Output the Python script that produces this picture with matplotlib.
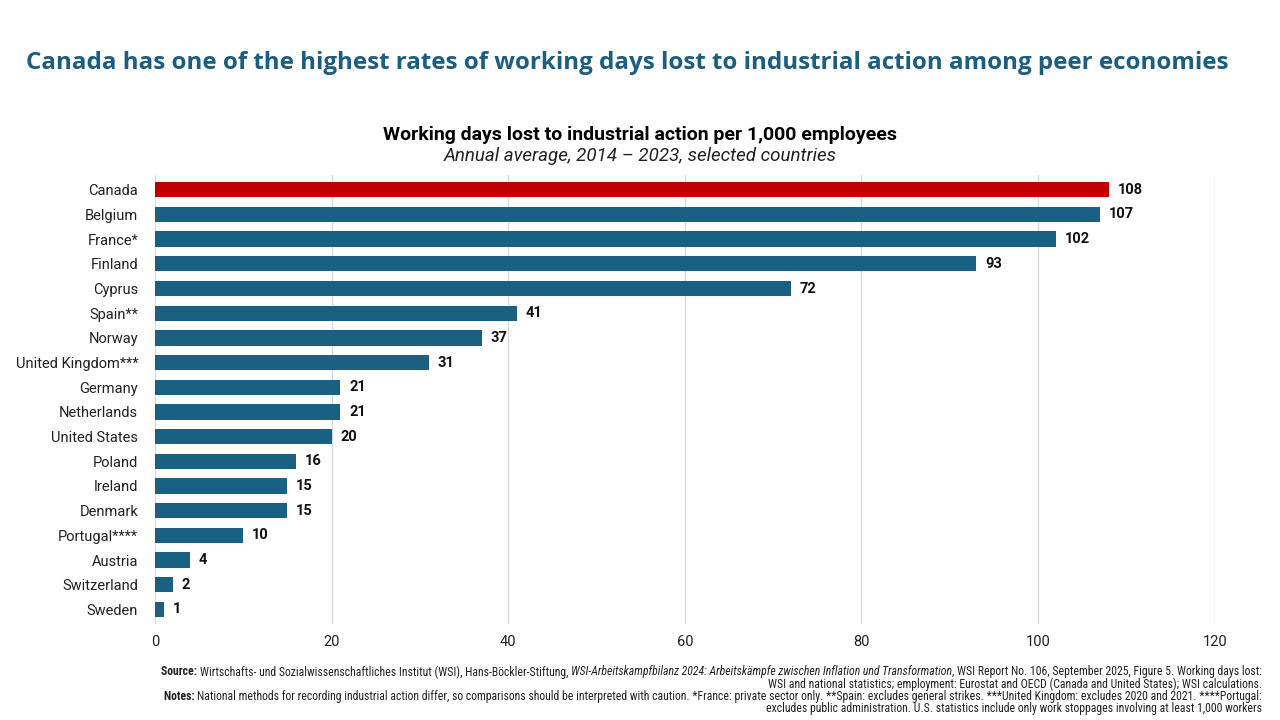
import matplotlib.pyplot as plt

countries = ["Canada", "Belgium", "France*", "Finland", "Cyprus", "Spain**", "Norway",
             "United Kingdom***", "Germany", "Netherlands", "United States", "Poland",
             "Ireland", "Denmark", "Portugal****", "Austria", "Switzerland", "Sweden"]
days_lost = [108, 107, 102, 93, 72, 41, 37, 31, 21, 21, 20, 16, 15, 15, 10, 4, 2, 1]
highlight = "Canada"

blue = "#1A6083"
red = "#C00000"

plt.rcParams['font.family'] = ['Roboto', 'DejaVu Sans']

fig = plt.figure(figsize=(12.8, 7.2), dpi=100)
ax = fig.add_axes([0.121, 0.133, 0.828, 0.624])

colors = [red if c == highlight else blue for c in countries]
ypos = list(range(len(countries)))
ax.barh(ypos, days_lost, height=0.62, color=colors, zorder=3)
for y, v in zip(ypos, days_lost):
    ax.text(v + 1.0, y, f"{v}", va="center", ha="left", fontsize=10.5,
            fontweight="bold", color="#111111")

ax.set_yticks(ypos)
ax.set_yticklabels(countries, fontsize=10.5, color="#222222")
ax.set_ylim(len(countries) - 0.4, -0.6)
ax.set_xlim(0, 120)
ax.set_xticks(range(0, 121, 20))
ax.tick_params(axis="x", labelsize=10.5, colors="#222222", length=0, pad=8)
ax.tick_params(axis="y", length=0, pad=12)
ax.grid(axis="x", color="#D9D9D9", linewidth=1, zorder=0)
for s in ax.spines.values():
    s.set_visible(False)

fig.text(0.02, 0.913, "Canada has one of the highest rates of working days lost to industrial action among peer economies",
         fontsize=17.4, fontweight="bold", color="#1B5E82", family=["Open Sans", "DejaVu Sans"],
         ha="left", va="center")
fig.text(0.5, 0.812, "Working days lost to industrial action per 1,000 employees",
         fontsize=14, fontweight="bold", color="#000000", ha="center", va="center")
fig.text(0.5, 0.783, "Annual average, 2014 \u2013 2023, selected countries",
         fontsize=13.5, style="italic", color="#222222", ha="center", va="center")

# footer: each line is a list of (text, weight, style), drawn right to left
foot = [
    [("Source: ", "bold", "normal"),
     ("Wirtschafts- und Sozialwissenschaftliches Institut (WSI), Hans-Böckler-Stiftung, ", "normal", "normal"),
     ("WSI-Arbeitskampfbilanz 2024: Arbeitskämpfe zwischen Inflation und Transformation", "normal", "italic"),
     (", WSI Report No. 106, September 2025, Figure 5. Working days lost:", "normal", "normal")],
    [("WSI and national statistics; employment: Eurostat and OECD (Canada and United States); WSI calculations.", "normal", "normal")],
    [("Notes: ", "bold", "normal"),
     ("National methods for recording industrial action differ, so comparisons should be interpreted with caution. "
      "*France: private sector only. **Spain: excludes general strikes. ***United Kingdom: excludes 2020 and 2021. ****Portugal:",
      "normal", "normal")],
    [("excludes public administration. U.S. statistics include only work stoppages involving at least 1,000 workers", "normal", "normal")],
]
foot_font = ["Roboto Condensed", "Liberation Sans Narrow", "Roboto", "DejaVu Sans"]
renderer = fig.canvas.get_renderer()
for i, line in enumerate(foot):
    x_right = 0.986
    yv = 0.0667 - i * 0.0168
    for txt, wt, st in reversed(line):
        t = fig.text(x_right, yv, txt, fontsize=8.5, ha="right", va="center",
                     fontweight=wt, style=st, color="#222222", family=foot_font)
        bb = t.get_window_extent(renderer=renderer)
        x_right = bb.x0 / fig.bbox.width

fig.savefig("out.png", dpi=100)
